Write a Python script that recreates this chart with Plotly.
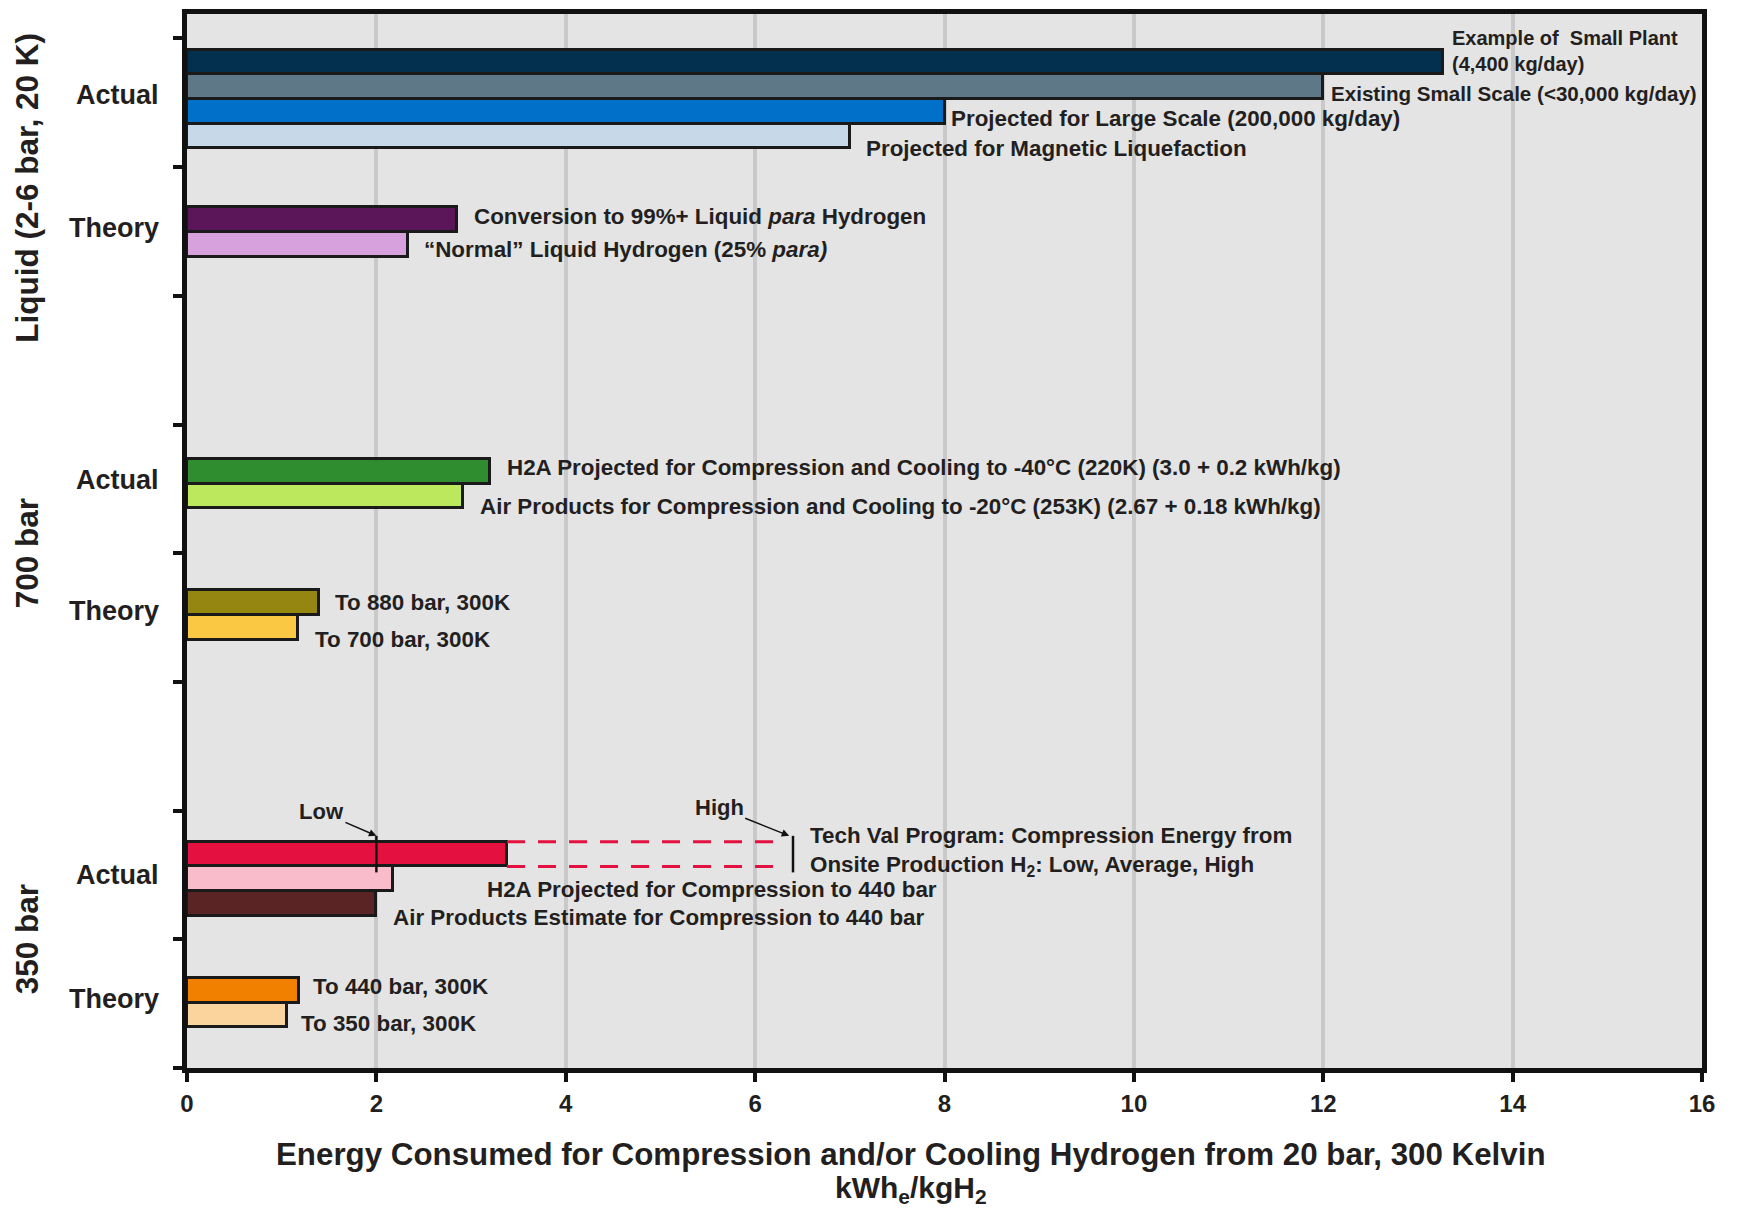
import plotly.graph_objects as go

# ---------------- data ----------------
bar_group = (["Liquid"] * 6) + (["700"] * 4) + (["350"] * 5)
bar_kind = (["Actual"] * 4 + ["Theory"] * 2
            + ["Actual"] * 2 + ["Theory"] * 2
            + ["Actual"] * 3 + ["Theory"] * 2)
bar_labels = [
    "Example of  Small Plant<br>(4,400 kg/day)",
    "Existing Small Scale (<30,000 kg/day)",
    "Projected for Large Scale (200,000 kg/day)",
    "Projected for Magnetic Liquefaction",
    "Conversion to 99%+ Liquid <i>para</i> Hydrogen",
    "\u201cNormal\u201d Liquid Hydrogen (25% <i>para)</i>",
    "H2A Projected for Compression and Cooling to -40\u00b0C (220K) (3.0 + 0.2 kWh/kg)",
    "Air Products for Compression and Cooling to -20\u00b0C (253K) (2.67 + 0.18 kWh/kg)",
    "To 880 bar, 300K",
    "To 700 bar, 300K",
    "",
    "H2A Projected for Compression to 440 bar",
    "Air Products Estimate for Compression to 440 bar",
    "To 440 bar, 300K",
    "To 350 bar, 300K",
]
bar_values = [13.26, 12.0, 8.0, 7.0, 2.85, 2.33, 3.2, 2.92, 1.39, 1.17,
              3.38, 2.18, 2.0, 1.18, 1.06]
tech_val_low = 2.0
tech_val_high = 6.4
tech_val_label = ("Tech Val Program: Compression Energy from<br>"
                  "Onsite Production H<sub>2</sub>: Low, Average, High")

group_titles = {"Liquid": "Liquid (2-6 bar, 20 K)", "700": "700 bar", "350": "350 bar"}
x_ticks = [0, 2, 4, 6, 8, 10, 12, 14, 16]
x_title_1 = "Energy Consumed for Compression and/or Cooling Hydrogen from 20 bar, 300 Kelvin"
x_title_2 = "kWh<sub>e</sub>/kgH<sub>2</sub>"

# ---------------- style / layout ----------------
bar_colors = ["#04304f", "#5f7888", "#0070c9", "#c7d9e8", "#5b1659", "#d6a1dc",
              "#2f8c2f", "#bbe85c", "#958511", "#fac842",
              "#e31040", "#f8bccb", "#5a2425", "#f17f00", "#fad49c"]
label_xshift = [7, 6, 4, 14, 15, 14, 15, 15, 14, 15, 0, 92, 15, 12, 12]
label_yshift = [11, -7, -7, -12, 3, -5, 4, -10, 0, -12, 0, -11, -14, 4, -8]
label_size = [20, 20.6] + [22.4] * 13

slot_center = {("Liquid", "Actual"): 7.53, ("Liquid", "Theory"): 6.495,
               ("700", "Actual"): 4.54, ("700", "Theory"): 3.52,
               ("350", "Actual"): 1.47, ("350", "Theory"): 0.507}
group_label_y = {"Liquid": 6.84, "700": 4.0, "350": 1.0}
PITCH = 0.192
TXT = "#231f20"
FONT = "Liberation Sans, Arial, sans-serif"

# compute bar y positions from slot structure
slot_members = {}
for i, key in enumerate(zip(bar_group, bar_kind)):
    slot_members.setdefault(key, []).append(i)
bar_y = [0.0] * len(bar_values)
for key, idxs in slot_members.items():
    n = len(idxs)
    for j, i in enumerate(idxs):
        bar_y[i] = slot_center[key] + ((n - 1) / 2 - j) * PITCH

fig = go.Figure()
fig.add_trace(go.Bar(
    x=bar_values, y=bar_y, orientation="h", width=PITCH,
    marker=dict(color=bar_colors, line=dict(color="#1a1a1a", width=3)),
    showlegend=False, hoverinfo="skip",
))

# Tech Val range: dashed lines and low/high markers
tv = bar_labels.index("")
yc = bar_y[tv]
half = PITCH / 2
for yy in (yc + half, yc - half):
    fig.add_trace(go.Scatter(
        x=[bar_values[tv], tech_val_high - 0.08], y=[yy, yy], mode="lines",
        line=dict(color="#e31040", width=3, dash="18px,13px"),
        showlegend=False, hoverinfo="skip"))
for xv in (tech_val_low, tech_val_high):
    fig.add_trace(go.Scatter(
        x=[xv, xv], y=[yc - 0.142, yc + 0.142], mode="lines",
        line=dict(color="#111111", width=2.5),
        showlegend=False, hoverinfo="skip"))

annotations = []
for i, lab in enumerate(bar_labels):
    if not lab:
        continue
    annotations.append(dict(
        x=bar_values[i], y=bar_y[i], xref="x", yref="y", text=lab,
        showarrow=False, xanchor="left", yanchor="middle", align="left",
        xshift=label_xshift[i], yshift=label_yshift[i],
        font=dict(family=FONT, size=label_size[i], color=TXT, weight="bold")))

annotations.append(dict(
    x=tech_val_high, y=yc, xref="x", yref="y", text=tech_val_label,
    showarrow=False, xanchor="left", yanchor="middle", align="left",
    xshift=15, yshift=3,
    font=dict(family=FONT, size=22.4, color=TXT, weight="bold")))

annotations.append(dict(
    x=tech_val_low, y=yc + 0.142, xref="x", yref="y", text="Low",
    showarrow=True, ax=-55, ay=-24, arrowhead=2, arrowsize=1, arrowwidth=1.5,
    arrowcolor="#111111",
    font=dict(family=FONT, size=22, color=TXT, weight="bold")))
annotations.append(dict(
    x=tech_val_high - 0.04, y=yc + 0.142, xref="x", yref="y", text="High",
    showarrow=True, ax=-70, ay=-28, arrowhead=2, arrowsize=1, arrowwidth=1.5,
    arrowcolor="#111111",
    font=dict(family=FONT, size=22, color=TXT, weight="bold")))

for key, yv in slot_center.items():
    annotations.append(dict(
        x=0, y=yv, xref="paper", yref="y", text=key[1], showarrow=False,
        xanchor="right", yanchor="middle", xshift=-26, yshift=4,
        font=dict(family=FONT, size=27, color=TXT, weight="bold")))

for g, yv in group_label_y.items():
    annotations.append(dict(
        x=0, y=yv, xref="paper", yref="y", text=group_titles[g], showarrow=False,
        textangle=-90, xanchor="center", yanchor="middle", xshift=-160,
        font=dict(family=FONT, size=31.5, color=TXT, weight="bold")))

annotations.append(dict(
    x=0.478, y=0, xref="paper", yref="paper", text=x_title_1,
    showarrow=False, xanchor="center", yanchor="middle", yshift=-86,
    font=dict(family=FONT, size=31.3, color=TXT, weight="bold")))
annotations.append(dict(
    x=0.478, y=0, xref="paper", yref="paper", text=x_title_2,
    showarrow=False, xanchor="center", yanchor="middle", yshift=-121,
    font=dict(family=FONT, size=30, color=TXT, weight="bold")))

fig.update_layout(
    width=1740, height=1211,
    margin=dict(l=187, r=38, t=9, b=143),
    paper_bgcolor="white", plot_bgcolor="#e4e4e4",
    bargap=0, annotations=annotations,
    xaxis=dict(range=[0, 16], tickvals=x_ticks, ticktext=[str(t) for t in x_ticks],
               showgrid=True, gridcolor="#c9c9c9", gridwidth=4, zeroline=False,
               showline=True, linecolor="#111111", linewidth=5, mirror=True,
               ticks="outside", ticklen=9, tickwidth=4, tickcolor="#111111",
               ticklabelstandoff=1,
               tickfont=dict(family=FONT, size=24, color=TXT, weight="bold")),
    yaxis=dict(range=[0, 8.19], tickvals=list(range(9)), showticklabels=False,
               showgrid=False, zeroline=False,
               showline=True, linecolor="#111111", linewidth=5, mirror=True,
               ticks="outside", ticklen=9, tickwidth=4, tickcolor="#111111"),
)

fig.write_html("out.html", config={"displayModeBar": False},
               post_script="document.body.style.margin='0px';")
